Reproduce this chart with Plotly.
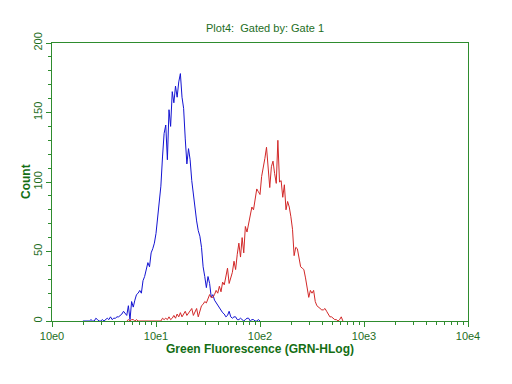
import plotly.graph_objects as go

# Histogram channels: 64 channels per decade, channel c -> fluorescence 10**(c/64)
CH_PER_DECADE = 64

blue_start = 19
blue_counts = [0, 0, 0, 0, 0, 1, 0, 0, 2, 1, 0, 0, 1, 0, 1, 2, 1, 3, 1, 2,
               2, 3, 3, 4, 5, 7, 5, 4, 11, 1, 14, 10, 15, 19, 20, 22, 20, 29, 32, 37,
               42, 39, 49, 52, 56, 63, 73, 85, 97, 118, 135, 141, 116, 152, 140, 165, 157, 169, 161, 172,
               178, 161, 153, 131, 113, 124, 116, 101, 90, 80, 72, 65, 61, 53, 39, 32, 24, 32, 27, 17,
               19, 15, 13, 11, 9, 8, 6, 5, 3, 4, 7, 3, 2, 3, 3, 1, 1, 2, 1, 0,
               1, 2, 2, 0, 1, 1, 0, 0, 1, 0]

red_start = 46
red_counts = [0, 1, 0, 1, 1, 0, 1, 0, 0, 0, 0, 0, 0, 0, 0, 0, 0, 0, 0, 0,
              0, 0, 2, 1, 2, 1, 3, 1, 2, 4, 2, 5, 3, 6, 3, 5, 7, 4, 6, 7,
              9, 4, 6, 9, 3, 8, 11, 12, 14, 13, 16, 19, 17, 17, 19, 22, 20, 25, 21, 28,
              26, 31, 38, 27, 32, 35, 43, 37, 48, 56, 46, 60, 49, 68, 64, 70, 75, 82, 80, 88,
              95, 93, 91, 104, 110, 117, 125, 110, 96, 111, 115, 106, 99, 130, 100, 101, 89, 98, 80, 86,
              82, 75, 66, 47, 53, 52, 46, 39, 38, 37, 31, 25, 17, 22, 20, 22, 14, 11, 10, 9,
              8, 8, 9, 7, 5, 3, 3, 2, 1, 1, 0, 1, 3, 0]

x_tickvals = [1, 10, 100, 1000, 10000]
x_ticktext = ["10e0", "10e1", "10e2", "10e3", "10e4"]
y_tickvals = [0, 50, 100, 150, 200]

title_text = "Plot4:  Gated by: Gate 1"
x_title = "Green Fluorescence (GRN-HLog)"
y_title = "Count"


def channel_x(start, n):
    return [10 ** ((start + i) / CH_PER_DECADE) for i in range(n)]


GREEN = "rgb(46,140,46)"
TEXT_GREEN = "rgb(30,110,30)"
LABEL_GREEN = "rgb(20,110,20)"

fig = go.Figure()
fig.add_trace(go.Scatter(x=channel_x(blue_start, len(blue_counts)), y=blue_counts,
                         mode="lines", line=dict(color="rgb(20,20,210)", width=1),
                         showlegend=False, hoverinfo="skip"))
fig.add_trace(go.Scatter(x=channel_x(red_start, len(red_counts)), y=red_counts,
                         mode="lines", line=dict(color="rgb(210,40,40)", width=1),
                         showlegend=False, hoverinfo="skip"))

minor_x = [m * 10 ** d for d in range(4) for m in range(2, 10)]

# page body has an 8px margin, so the figure is 504x376 and offset by 8px
W, H = 504, 376
ML, MR, MT, MB = 44, 44, 35, 63
PW, PH = W - ML - MR, H - MT - MB
fig.update_layout(
    width=W, height=H,
    margin=dict(l=ML, r=MR, t=MT, b=MB),
    paper_bgcolor="white", plot_bgcolor="white",
    font=dict(family="Liberation Sans, Arial, sans-serif", size=11, color=TEXT_GREEN),
    title=dict(text=title_text, x=0.51, xanchor="center", y=1 - 20 / H, yanchor="middle",
               font=dict(size=11, color=TEXT_GREEN)),
    xaxis=dict(type="log", range=[0, 4], tickvals=x_tickvals, ticktext=x_ticktext,
               automargin=False,
               showgrid=False, zeroline=False, showline=True, linecolor=GREEN, linewidth=1,
               mirror=True, ticks="outside", ticklen=5, tickcolor=GREEN,
               minor=dict(tickvals=minor_x, ticks="outside", ticklen=3, tickcolor=GREEN, showgrid=False),
               tickfont=dict(size=11, color=TEXT_GREEN),
               title=dict(text="<b>" + x_title + "</b>", standoff=2,
                          font=dict(size=12, color=LABEL_GREEN))),
    yaxis=dict(range=[0, 200], tickvals=y_tickvals, ticktext=[str(v) for v in y_tickvals],
               automargin=False,
               showgrid=False, zeroline=False, showline=True, linecolor=GREEN, linewidth=1,
               mirror=True, ticks="outside", ticklen=5, tickcolor=GREEN, tickangle=-90,
               ticklabelstandoff=0,
               minor=dict(dtick=10, ticks="outside", ticklen=3, tickcolor=GREEN, showgrid=False),
               tickfont=dict(size=11, color=TEXT_GREEN)),
    annotations=[dict(text="<b>" + y_title + "</b>", xref="paper", yref="paper",
                      x=-(52 - 26) / PW, y=0.5, xanchor="center", yanchor="middle",
                      textangle=-90, showarrow=False,
                      font=dict(size=12, color=LABEL_GREEN))],
)

fig.write_html("out.html")
